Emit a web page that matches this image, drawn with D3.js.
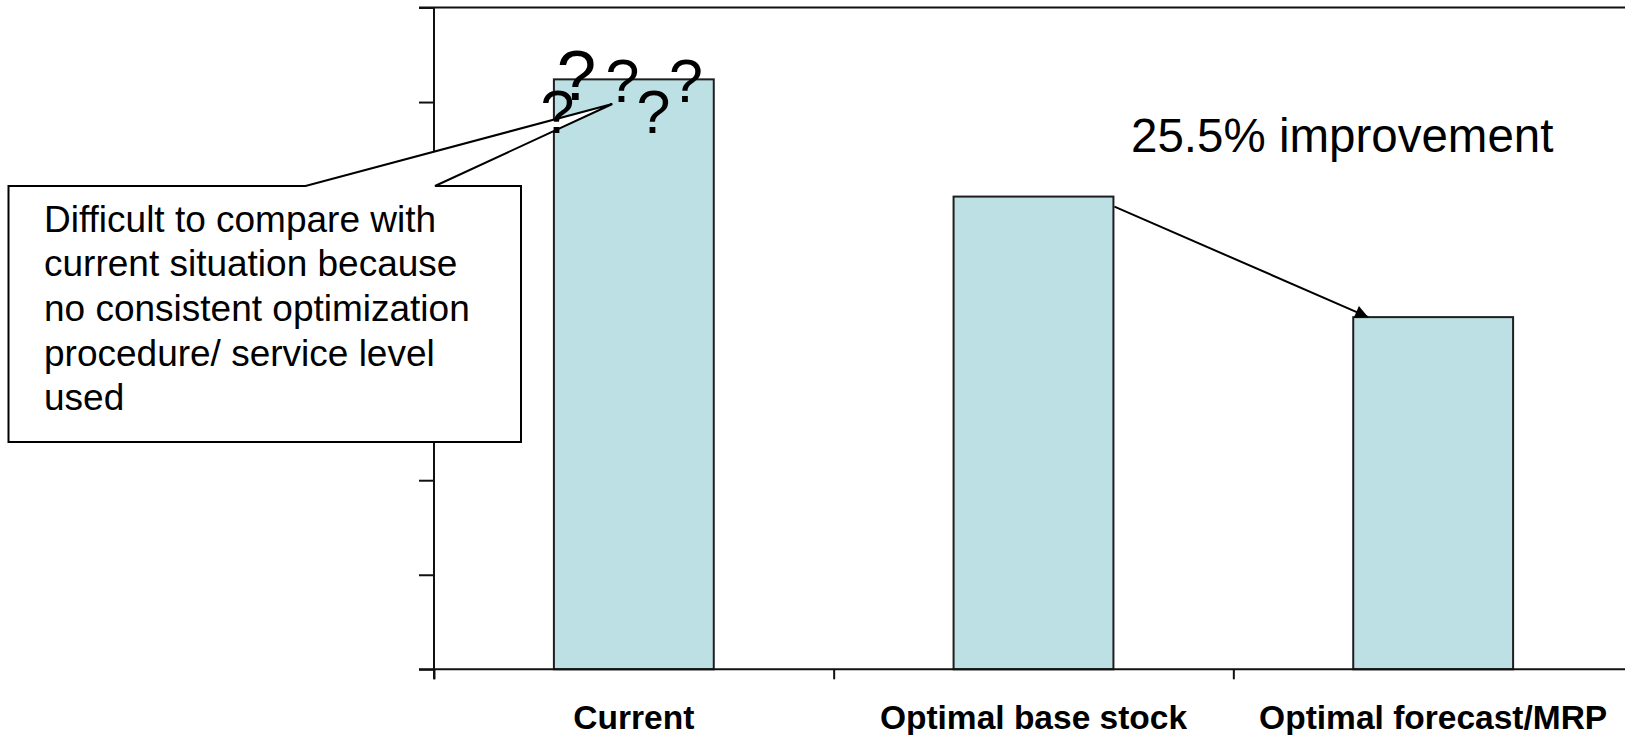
<!DOCTYPE html>
<html>
<head>
<meta charset="utf-8">
<script src="https://cdn.jsdelivr.net/npm/d3@7"></script>
<style>
  html, body { margin: 0; padding: 0; background: #fff; }
  svg { display: block; font-family: Arial, "Liberation Sans", sans-serif; }
</style>
</head>
<body>
<svg id="chart" width="1625" height="735"></svg>
<script>
// Inventory level by policy (relative units)
const categories = ["Current", "Optimal base stock", "Optimal forecast/MRP"];
const values = [62.4, 50.0, 37.25];
const yTicks = [0, 10, 20, 30, 40, 50, 60, 70];
const calloutLines = [
  "Difficult to compare with",
  "current situation because",
  "no consistent optimization",
  "procedure/ service level",
  "used"
];

const W = 1625, H = 735;
const svg = d3.select("#chart");
svg.append("rect").attr("width", W).attr("height", H).attr("fill", "#fff");

const plot = { left: 434, right: 1633, top: 7.5, bottom: 669.3 };

const x = d3.scaleBand().domain(categories).range([plot.left, plot.right]).padding(0);
const y = d3.scaleLinear().domain([0, 70]).range([plot.bottom, plot.top]);

const barFrac = 0.4;
const barW = x.bandwidth() * barFrac;
const barX = d => x(d) + (x.bandwidth() - barW) / 2;

// Bars
svg.append("g")
  .selectAll("rect")
  .data(categories)
  .join("rect")
  .attr("x", d => barX(d))
  .attr("y", (d, i) => y(values[i]))
  .attr("width", barW)
  .attr("height", (d, i) => y(0) - y(values[i]))
  .attr("fill", "#bce0e3")
  .attr("stroke", "#1e1e1e")
  .attr("stroke-width", 2);

// Top frame line
svg.append("line")
  .attr("x1", plot.left - 15).attr("x2", W)
  .attr("y1", y(70)).attr("y2", y(70))
  .attr("stroke", "#111").attr("stroke-width", 2);

// Y axis: ticks only, no labels
const yAxis = d3.axisLeft(y).tickValues(yTicks).tickSize(15).tickFormat("");
const gy = svg.append("g").attr("transform", `translate(${plot.left},0)`).call(yAxis);
gy.select(".domain").remove();
gy.selectAll(".tick line").attr("stroke", "#111").attr("stroke-width", 2);
svg.append("line")
  .attr("x1", plot.left).attr("x2", plot.left)
  .attr("y1", y(70)).attr("y2", y(0) + 10)
  .attr("stroke", "#111").attr("stroke-width", 2);

// X axis: category boundaries as ticks, labels centred in bands
const xEdges = d3.scaleLinear().domain([0, categories.length]).range([plot.left, plot.right]);
const xAxis = d3.axisBottom(xEdges).tickValues(d3.range(categories.length + 1)).tickSize(10).tickFormat("");
const gx = svg.append("g").attr("transform", `translate(0,${y(0)})`).call(xAxis);
gx.select(".domain").remove();
gx.selectAll(".tick line").attr("stroke", "#111").attr("stroke-width", 2);
svg.append("line")
  .attr("x1", plot.left - 15).attr("x2", W)
  .attr("y1", y(0)).attr("y2", y(0))
  .attr("stroke", "#111").attr("stroke-width", 2);

svg.append("g")
  .selectAll("text")
  .data(categories)
  .join("text")
  .attr("x", d => x(d) + x.bandwidth() / 2)
  .attr("y", 729)
  .attr("text-anchor", "middle")
  .attr("font-size", 33.5)
  .attr("font-weight", "bold")
  .attr("fill", "#000")
  .text(d => d);

// Improvement arrow from base stock bar to forecast/MRP bar
const defs = svg.append("defs");
defs.append("marker")
  .attr("id", "arrowHead")
  .attr("viewBox", "0 0 10 10")
  .attr("refX", 10).attr("refY", 5)
  .attr("markerUnits", "userSpaceOnUse")
  .attr("markerWidth", 14).attr("markerHeight", 13)
  .attr("orient", "auto")
  .append("path").attr("d", "M0,0 L10,5 L0,10 Z").attr("fill", "#000");

const x2 = barX(categories[1]) + barW;
const x3 = barX(categories[2]);
svg.append("line")
  .attr("x1", x2 + 1).attr("y1", y(values[1]) + 10)
  .attr("x2", x3 + 15).attr("y2", y(values[2]))
  .attr("stroke", "#000").attr("stroke-width", 2)
  .attr("marker-end", "url(#arrowHead)");

const improvement = (1 - values[2] / values[1]) * 100;
svg.append("text")
  .attr("x", 1131).attr("y", 151.5)
  .attr("font-size", 47.5)
  .attr("fill", "#000")
  .text(`${improvement.toFixed(1)}% improvement`);

// Callout box with pointer into the current bar
const box = { l: 8.5, r: 521, t: 186, b: 442 };
const tip = [612.3, 104];
const callout = d3.path();
callout.moveTo(box.l, box.t);
callout.lineTo(305.5, box.t);
callout.lineTo(tip[0], tip[1]);
callout.lineTo(435, box.t);
callout.lineTo(box.r, box.t);
callout.lineTo(box.r, box.b);
callout.lineTo(box.l, box.b);
callout.closePath();
svg.append("path")
  .attr("d", callout.toString())
  .attr("fill", "#fff")
  .attr("stroke", "#000")
  .attr("stroke-width", 2)
  .attr("stroke-linejoin", "miter");

svg.append("g")
  .selectAll("text")
  .data(calloutLines)
  .join("text")
  .attr("x", 44)
  .attr("y", (d, i) => 231.7 + i * 44.6)
  .attr("font-size", 37)
  .attr("fill", "#000")
  .text(d => d);

// Question marks over the current bar
const marks = [
  { cx: 576.5, by: 100, s: 71 },
  { cx: 622.5, by: 102, s: 61 },
  { cx: 686, by: 102, s: 61 },
  { cx: 557.5, by: 133, s: 61 },
  { cx: 653.5, by: 133, s: 61 }
];
svg.append("g")
  .selectAll("text")
  .data(marks)
  .join("text")
  .attr("x", d => d.cx)
  .attr("y", d => d.by)
  .attr("text-anchor", "middle")
  .attr("font-size", d => d.s)
  .attr("fill", "#000")
  .text("?");
</script>
</body>
</html>
